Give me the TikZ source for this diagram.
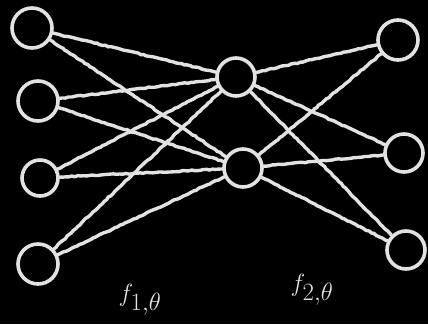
\documentclass[tikz,border=0pt]{standalone}
\usepackage{amsmath,amssymb}
\usepackage{xcolor}
\usepackage{tikz}
\usetikzlibrary{decorations.pathmorphing}
\definecolor{chalk}{HTML}{E2E2E2}
\tikzset{
  neuron/.style={draw=chalk, circle, line width=3.6pt, minimum size=#1, inner sep=0pt},
  neuron/.default=38pt,
  wire/.style={draw=chalk, line width=3.4pt, line cap=round, decorate, decoration={random steps, segment length=3pt, amplitude=0.5pt}},
  lbl/.style={text=chalk, font=\fontsize{36}{38}\selectfont},
}

\begin{document}
\begin{tikzpicture}[x=1pt, y=-1pt]
  \fill[black] (0,0) rectangle (428,324);
  \useasboundingbox (0,0) rectangle (428,324);
  % input layer
  \node[neuron=40pt] (in1) at (32,28) {};
  \node[neuron=40pt] (in2) at (38,101) {};
  \node[neuron=36pt] (in3) at (40,178) {};
  \node[neuron=40pt] (in4) at (38,264) {};
  % hidden layer
  \node[neuron=38pt] (hid1) at (236,77) {};
  \node[neuron=38pt] (hid2) at (243,168) {};
  % output layer
  \node[neuron=40pt] (out1) at (398,40) {};
  \node[neuron=38pt] (out2) at (404,153) {};
  \node[neuron=38pt] (out3) at (406,250) {};
  % connections
  \foreach \i in {1,...,4}
    \foreach \h in {1,2}
      \draw[wire] (in\i) -- (hid\h);
  \foreach \h in {1,2}
    \foreach \o in {1,2,3}
      \draw[wire] (hid\h) -- (out\o);
  % labels
  \node[lbl] (f1) at (140,300) {$f_{1,\theta}$};
  \node[lbl] (f2) at (312,290) {$f_{2,\theta}$};
\end{tikzpicture}
\end{document}
